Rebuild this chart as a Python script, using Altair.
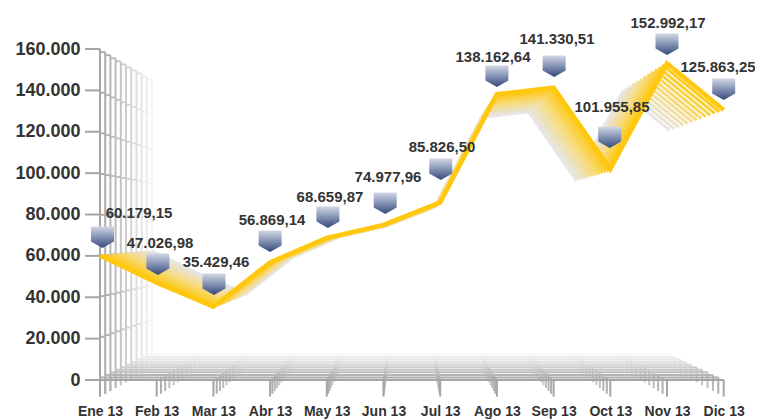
import altair as alt
import pandas as pd

months = ["Ene 13","Feb 13","Mar 13","Abr 13","May 13","Jun 13","Jul 13","Ago 13","Sep 13","Oct 13","Nov 13","Dic 13"]
values = [60179,47027,35429,56869,68660,74978,85827,138163,141331,101956,152992,130500]
labels = ["60.179,15","47.026,98","35.429,46","56.869,14","68.659,87","74.977,96","85.826,50","138.162,64","141.330,51","101.955,85","152.992,17","125.863,25"]
label_x = [.688,1.058,2.046,3.034,4.056,5.079,6.032,6.931,8.06,9.03,10.018,10.9]
label_y = [80724,66223,57039,77341,88459,98127,112628,156132,164833,131963,172567,151298]
pin_x = [.044,1.02,2.01,3,4.02,5.03,6.01,7,8.01,8.99,10,11]
pin_y = [63806,50755,41087,61873,73474,80241,96676,141630,146464,112144,157099,135346]
y_ticks = [0,20000,40000,60000,80000,100000,120000,140000,160000]

X_DOMAIN = [-0.3527, 11.552]
Y_DOMAIN = [-8701, 175958]
VX, VY, DEPTH, STUB = 5.4, 72500, 0.17, -8000
GRID_N, RIB_N = 10, 12

def proj(x, y, t):
    return x + (VX - x) * DEPTH * t, y + (VY - y) * DEPTH * t

def mix(a, b, t):
    return "#" + "".join(f"{round(a[i] + (b[i] - a[i]) * t):02x}" for i in range(3))

def grid_color(t):
    return mix((165, 165, 168), (245, 245, 246), t)

def rib_color(t):
    y, m, g = (255, 200, 14), (246, 219, 130), (230, 230, 230)
    return mix(y, m, t / 0.5) if t < 0.5 else mix(m, g, (t - 0.5) / 0.5)

rows = []
for k in range(GRID_N, -1, -1):
    t = k / GRID_N
    c = grid_color(t)
    x0, y0 = proj(0, 0, t)
    x1, _ = proj(11, 0, t)
    rows.append(dict(x=x0, x2=x1, y=y0, y2=y0, c=c))
    for i in range(12):
        xa, ya = proj(i, 0, t)
        _, yb = proj(i, STUB, t)
        rows.append(dict(x=xa, x2=xa, y=ya, y2=yb, c=c))
    xa, ya = proj(0, y_ticks[-1], t)
    _, yb = proj(0, STUB, t)
    rows.append(dict(x=xa, x2=xa, y=ya, y2=yb, c=c))
    for v in y_ticks:
        xa, ya = proj(0, v, t)
        rows.append(dict(x=xa - (0.265 if k == 0 else 0.09), x2=xa, y=ya, y2=ya, c=c))
grid = alt.Chart(pd.DataFrame(rows)).mark_rule(strokeWidth=2).encode(
    x=alt.X("x:Q", scale=alt.Scale(domain=X_DOMAIN, nice=False, zero=False),
            axis=alt.Axis(values=list(range(12)), title=None, grid=False, domain=False, ticks=False,
                          labelExpr="[" + ",".join(f"'{m}'" for m in months) + "][datum.value]",
                          labelFont="Liberation Sans", labelFontSize=14, labelFontWeight="bold",
                          labelColor="#333333", labelPadding=6, labelOverlap=False, labelFlush=False)),
    x2="x2:Q",
    y=alt.Y("y:Q", scale=alt.Scale(domain=Y_DOMAIN, nice=False, zero=False),
            axis=alt.Axis(values=y_ticks, title=None, grid=False, domain=False, ticks=False,
                          labelExpr="replace(format(datum.value, ','), /,/g, '.')",
                          labelFont="Liberation Sans", labelFontSize=18, labelFontWeight="bold",
                          labelColor="#333333", labelPadding=0)),
    y2="y2:Q",
    color=alt.Color("c:N", scale=None),
)

layers = [grid]
for k in range(RIB_N, -1, -1):
    t = k / RIB_N
    pts = [proj(i, v, t) for i, v in enumerate(values)]
    df = pd.DataFrame({"x": [p[0] for p in pts], "y": [p[1] for p in pts]})
    layers.append(alt.Chart(df).mark_line(color=rib_color(t), strokeWidth=4.5 if k == 0 else 3,
                                          strokeJoin="miter", strokeMiterLimit=10).encode(x="x:Q", y="y:Q"))

pin_df = pd.DataFrame({"x": pin_x, "y": pin_y})
pin = alt.Chart(pin_df).mark_point(
    shape="M-1,-1.87 L1,-1.87 L1,-0.57 L0,0 L-1,-0.57 Z", size=529, filled=True, opacity=1, strokeWidth=0,
    fill=alt.Gradient(gradient="linear", x1=0, y1=0, x2=0, y2=1,
                      stops=[alt.GradientStop(color="#d2d7e4", offset=0),
                             alt.GradientStop(color="#8291b4", offset=0.5),
                             alt.GradientStop(color="#34497a", offset=1)]),
).encode(x="x:Q", y="y:Q")

text_df = pd.DataFrame({"x": label_x, "y": label_y, "t": labels})
text = alt.Chart(text_df).mark_text(font="Liberation Sans", fontSize=15, fontWeight="bold", color="#333333",
                                    align="center", baseline="middle").encode(x="x:Q", y="y:Q", text="t:N")

chart = alt.layer(*layers, pin, text).properties(
    width=675, height=382, background="white",
    autosize=alt.AutoSizeParams(type="none"),
    padding={"left": 72, "top": 8, "right": 0, "bottom": 21},
).configure_view(stroke=None)

chart.save("out.html", embed_options={"renderer": "svg", "actions": False})
